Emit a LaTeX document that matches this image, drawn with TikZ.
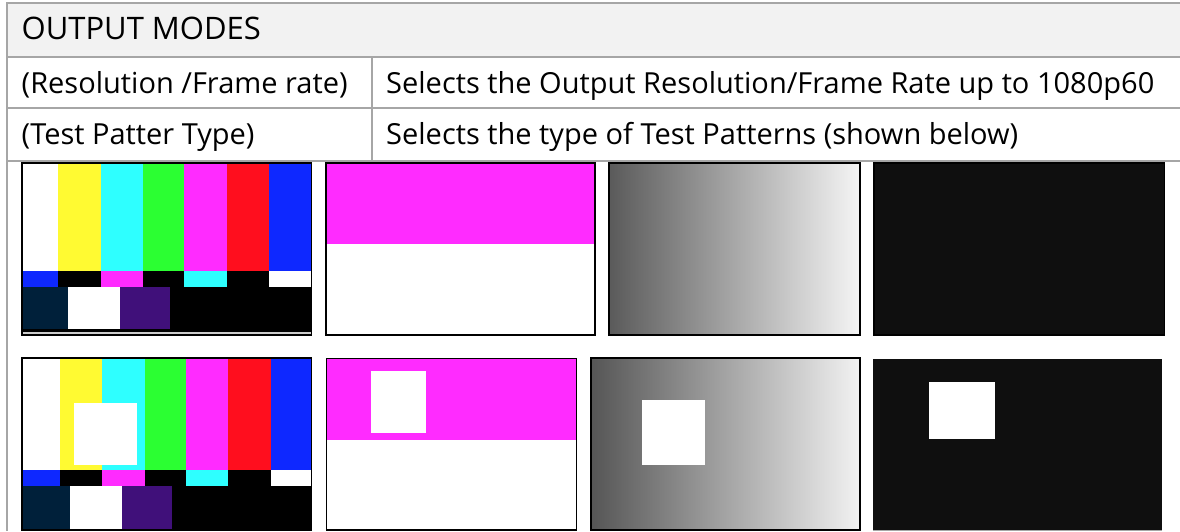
\documentclass[tikz,border=0pt]{standalone}
\usepackage{fontspec}
\setmainfont{Open Sans}
\definecolor{tablegrey}{HTML}{A6A6A6}
\definecolor{headergrey}{HTML}{F2F2F2}
\definecolor{cbyellow}{HTML}{FFFA32}
\definecolor{cbcyan}{HTML}{2EFFFF}
\definecolor{cbgreen}{HTML}{2BFF32}
\definecolor{cbmagenta}{HTML}{FF2BFF}
\definecolor{cbred}{HTML}{FF0E1E}
\definecolor{cbblue}{HTML}{0E28FF}
\definecolor{cbnavy}{HTML}{00203A}
\definecolor{cbpurple}{HTML}{40107A}
\definecolor{nearblack}{HTML}{0F0F0F}
\definecolor{gradleft}{HTML}{5A5A5A}
\definecolor{gradright}{HTML}{F5F5F5}
\begin{document}
\begin{tikzpicture}[x=1pt,y=-1pt,
  grid/.style={draw=tablegrey,line width=1.5pt},
  frame/.style={draw=black,line width=1.8pt},
  txt/.style={anchor=base west,inner sep=0pt,font=\fontsize{29}{34}\selectfont,text=black},
  titletxt/.style={txt,font=\fontsize{31}{37}\selectfont}]
\useasboundingbox (0,0) rectangle (1180,531);
% table
\fill[headergrey] (7,3) rectangle (1180,57);
\draw[grid] (7,531) -- (7,3) -- (1180,3);
\draw[grid] (7,57) -- (1180,57);
\draw[grid] (7,108) -- (1180,108);
\draw[grid] (7,161) -- (1180,161);
\draw[grid] (372,57) -- (372,161);
\node[titletxt] (title) at (21.5,39) {OUTPUT MODES};
\node[txt] (res) at (21.5,93) {(Resolution /Frame rate)};
\node[txt] (resdesc) at (386,93) {Selects the Output Resolution/Frame Rate up to 1080p60};
\node[txt] (tp) at (21.5,144) {(Test Patter Type)};
\node[txt] (tpdesc) at (386,144) {Selects the type of Test Patterns (shown below)};
% ---- row 1: colour bars
\fill[white]     (23,163) rectangle (57.7,271.3);
\fill[cbyellow]  (57.7,163) rectangle (100.7,271.3);
\fill[cbcyan]    (100.7,163) rectangle (143.3,271.3);
\fill[cbgreen]   (143.3,163) rectangle (183.7,271.3);
\fill[cbmagenta] (183.7,163) rectangle (226.7,271.3);
\fill[cbred]     (226.7,163) rectangle (269,271.3);
\fill[cbblue]    (269,163) rectangle (311,271.3);
\fill[cbblue]    (23,271.3) rectangle (57.7,286.7);
\fill[black]     (57.7,271.3) rectangle (100.7,286.7);
\fill[cbmagenta] (100.7,271.3) rectangle (143.3,286.7);
\fill[black]     (143.3,271.3) rectangle (183.7,286.7);
\fill[cbcyan]    (183.7,271.3) rectangle (226.7,286.7);
\fill[black]     (226.7,271.3) rectangle (269,286.7);
\fill[white]     (269,271.3) rectangle (311,286.7);
\fill[black]     (23,286.7) rectangle (311,335);
\fill[cbnavy]    (23,286.7) rectangle (68.3,329.3);
\fill[white]     (68.3,286.7) rectangle (120,329.3);
\fill[cbpurple]  (120,286.7) rectangle (170,329.3);
\fill[black!20]  (23,331.7) rectangle (311,334.3);
\draw[frame] (22.1,162.8) rectangle (311.5,335.2);
% ---- row 1: magenta / white
\fill[cbmagenta] (326,163) rectangle (595,244);
\draw[frame] (326.1,162.8) rectangle (595,335.2);
% ---- row 1: gradient
\shade[left color=gradleft,right color=gradright] (609,163) rectangle (860,335);
\draw[frame] (608.8,162.8) rectangle (860,335.2);
% ---- row 1: black
\fill[nearblack] (874,163) rectangle (1164,335);
\draw[frame] (873.8,162.8) rectangle (1164.5,335.2);
% ---- row 2: colour bars with square
\fill[white]     (23,359.3) rectangle (60,470.3);
\fill[cbyellow]  (60,359.3) rectangle (102.3,470.3);
\fill[cbcyan]    (102.3,359.3) rectangle (145,470.3);
\fill[cbgreen]   (145,359.3) rectangle (185.7,470.3);
\fill[cbmagenta] (185.7,359.3) rectangle (228.3,470.3);
\fill[cbred]     (228.3,359.3) rectangle (270.7,470.3);
\fill[cbblue]    (270.7,359.3) rectangle (311,470.3);
\fill[cbblue]    (23,470.3) rectangle (60,485.7);
\fill[black]     (60,470.3) rectangle (102.3,485.7);
\fill[cbmagenta] (102.3,470.3) rectangle (145,485.7);
\fill[black]     (145,470.3) rectangle (185.7,485.7);
\fill[cbcyan]    (185.7,470.3) rectangle (228.3,485.7);
\fill[black]     (228.3,470.3) rectangle (270.7,485.7);
\fill[white]     (270.7,470.3) rectangle (311,485.7);
\fill[black]     (23,485.7) rectangle (311,530);
\fill[cbnavy]    (23,485.7) rectangle (69.7,530);
\fill[white]     (69.7,485.7) rectangle (122,530);
\fill[cbpurple]  (122,485.7) rectangle (172,530);
\fill[white]     (73.7,403) rectangle (137,465);
\draw[frame] (22.1,358.1) rectangle (311.5,530.2);
% ---- row 2: magenta with square
\fill[cbmagenta] (326.5,358.5) rectangle (576.5,440);
\fill[white]     (371,371) rectangle (425.7,433.3);
\draw[frame] (326.5,358.5) rectangle (576.5,530.2);
% ---- row 2: gradient with square
\shade[left color=gradleft!95!black,right color=headergrey] (591,358) rectangle (860,530);
\fill[white]     (642,400.3) rectangle (704.8,465);
\draw[frame] (591.1,358.1) rectangle (859.7,530.2);
% ---- row 2: black with square
\fill[nearblack] (873,359) rectangle (1162,530.3);
\draw[tablegrey,line width=0.8pt] (873,530.6) -- (1162,530.6);
\fill[white]     (929,382.3) rectangle (995,438.7);
\end{tikzpicture}
\end{document}
